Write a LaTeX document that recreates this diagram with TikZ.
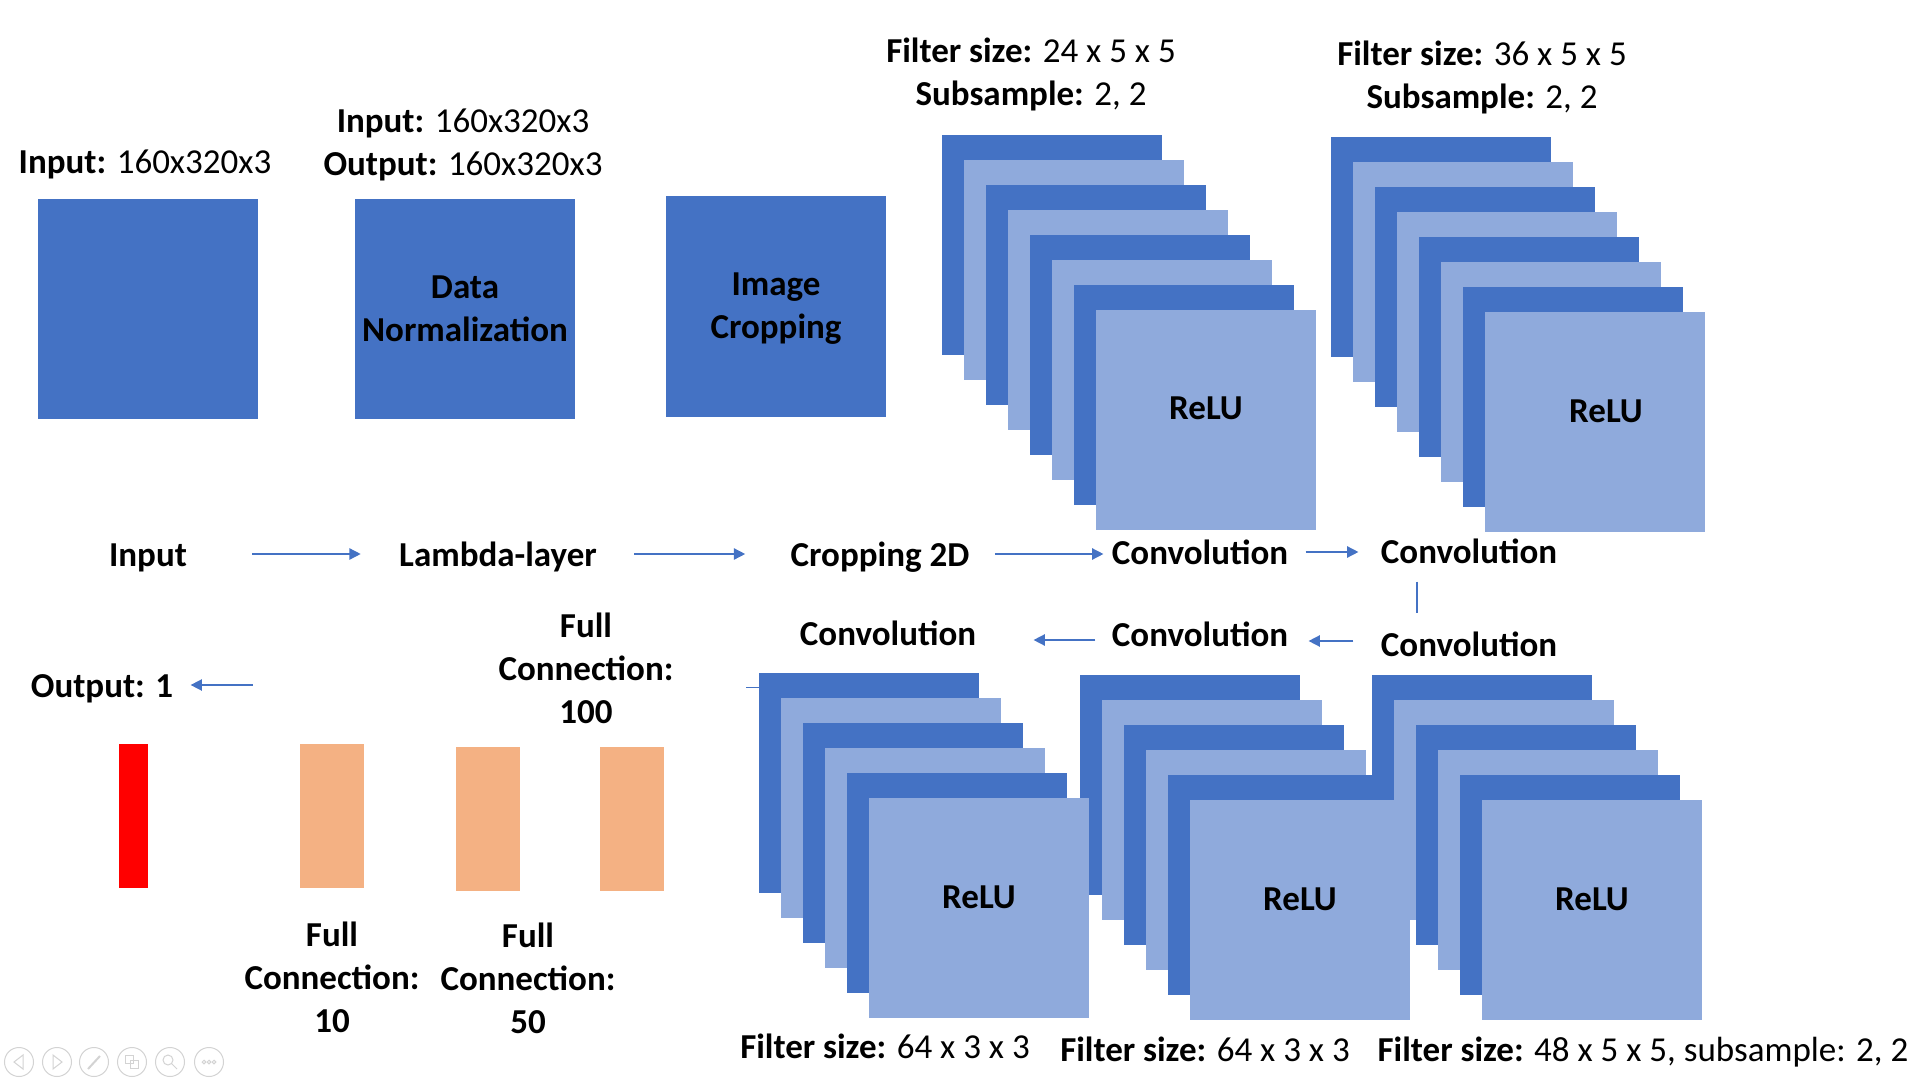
\documentclass[tikz,border=0pt]{standalone}
\usepackage{fontspec}
\setmainfont{Carlito}
\usetikzlibrary{arrows.meta,calc,positioning}

\definecolor{convdark}{HTML}{4472C4}
\definecolor{convlight}{HTML}{8FAADC}
\definecolor{fcorange}{HTML}{F4B183}
\definecolor{outred}{HTML}{FF0000}
\definecolor{uigray}{HTML}{D3D3D3}

\newcommand{\figfont}{\fontsize{26.25}{32.25}\selectfont}

\tikzset{every picture/.style={line width=0.75pt}}
\tikzset{
	txt/.style={font=\figfont, inner sep=0pt},
	btxt/.style={font=\figfont\bfseries, inner sep=0pt},
	rowtxt/.style={btxt, text height=18pt, text depth=0pt},
	multitxt/.style={txt, align=center},
	bmultitxt/.style={btxt, align=center},
	layerbox/.style={btxt, fill=convdark, minimum width=165pt, minimum height=165pt, align=center},
	fmap/.style={minimum width=165pt, minimum height=165pt, inner sep=0pt},
	fcbar/.style={fill=fcorange, minimum width=48pt, minimum height=108pt, inner sep=0pt},
	flow/.style={draw=convdark, line width=1.1pt, -{Triangle[length=8.5pt,width=8.5pt]}},
	link/.style={draw=convdark, line width=1.1pt},
	uibtn/.style={circle, draw=uigray, minimum size=21.75pt, inner sep=0pt},
}

\begin{document}
\begin{tikzpicture}[x=0.75pt,y=0.75pt,yscale=-1,xscale=1]
	\useasboundingbox (0,0) rectangle (1920,1080);
	
	%Input, lambda and cropping layers
	\node[layerbox] (inbox) at (148,309) {};
	\node[layerbox] (normbox) at (465,309) {Data\\Normalization};
	\node[layerbox] (cropbox) at (776,306.5) {};
	\node[bmultitxt] (cropname) at ($(cropbox.center)+(0,2.5)$) {Image\\Cropping};
	\node[txt, anchor=base] (inshape) at (145,174) {\textbf{Input:} 160x320x3};
	\node[multitxt] (normshape) at (463,144.5) {\textbf{Input:} 160x320x3\\\textbf{Output:} 160x320x3};
	
	%Feature maps (right to left, so the left stacks lie on top)
	\foreach \nm/\x/\y/\n in {cc/1372/675/6, cd/1080/675/6, ce/759/673/6, ca/942/135/8, cb/1331/137/8}{
		\foreach \i in {1,...,\n}{
			\pgfmathtruncatemacro{\odd}{mod(\i,2)}
			\ifnum\odd=1 \def\mapcol{convdark}\else\def\mapcol{convlight}\fi
			\node[fmap, fill=\mapcol] (\nm\i) at ({\x+110+(\i-1)*22},{\y+110+(\i-1)*25}) {};
		}
	}
	\foreach \st/\k/\off in {ca/8/0, cb/8/11, cc/6/0, cd/6/0, ce/6/0}
		\node[btxt, anchor=base] (relu\st) at ($(\st\k.center)+(\off,0)$) {ReLU};
	
	\node[multitxt] (fsa) at (1031,74) {\textbf{Filter size:} 24 x 5 x 5\\\textbf{Subsample:} 2, 2};
	\node[multitxt] (fsb) at (1482,77) {\textbf{Filter size:} 36 x 5 x 5\\\textbf{Subsample:} 2, 2};
	\node[txt, anchor=base] (fsc) at (1643,1061.5) {\textbf{Filter size:} 48 x 5 x 5, subsample: 2, 2};
	\node[txt, anchor=base] (fsd) at (1205,1061.5) {\textbf{Filter size:} 64 x 3 x 3};
	\node[txt, anchor=base] (fse) at (885,1058.5) {\textbf{Filter size:} 64 x 3 x 3};
	
	%Dense layers
	\node[fill=outred, minimum width=21.75pt, minimum height=108pt, inner sep=0pt] (fcout) at (133.5,816) {};
	\node[fcbar] (fc10) at (332,816) {};
	\node[fcbar] (fc50) at (488,819) {};
	\node[fcbar] (fc100) at (632,819) {};
	\node[bmultitxt] (lfc10) at (332,977.5) {Full\\Connection:\\10};
	\node[bmultitxt] (lfc50) at (528,978) {Full\\Connection:\\50};
	\node[bmultitxt] (lfc100) at (586,668) {Full\\Connection:\\100};
	
	%Layer sequence
	\node[rowtxt, anchor=base] (lin) at (148,566) {Input};
	\node[rowtxt, anchor=base] (llam) at (498,566) {Lambda-layer};
	\node[rowtxt, anchor=base] (lcrop) at (880,566) {Cropping 2D};
	\node[rowtxt, anchor=base] (lconva) at (1200,564) {Convolution};
	\node[rowtxt, anchor=base] (lconvb) at (1469,563) {Convolution};
	\node[rowtxt, anchor=base] (lconvc) at (1469,656) {Convolution};
	\node[rowtxt, anchor=base] (lconvd) at (1200,646) {Convolution};
	\node[rowtxt, anchor=base] (lconve) at (888,645) {Convolution};
	\node[rowtxt, anchor=base] (lout) at (102,697) {Output: 1};
	
	\draw[flow, shorten <=48.75pt, shorten >=28.5pt] (lin.east) -- (llam.west);
	\draw[flow, shorten <=27.75pt, shorten >=33.75pt] (llam.east) -- (lcrop.west);
	\draw[flow, shorten <=18.75pt, shorten >=6pt] (lcrop.east) -- (lcrop.east -| lconva.west);
	\draw[flow, shorten <=12.75pt, shorten >=16.5pt] (lconva.east) -- (lconva.east -| lconvb.west);
	\draw[link, shorten <=13.5pt, shorten >=14.25pt] ($(lconvb.south)+(-52,0)$) -- ($(lconvc.north)+(-52,0)$);
	\draw[flow, shorten <=20.25pt, shorten >=15pt] ($(lconvc.west)+(0,-3)$) -- ($(lconvd.east)+(0,7)$);
	\draw[flow, shorten <=12pt, shorten >=42.75pt] ($(lconvd.west)+(0,6)$) -- ($(lconve.east)+(0,7)$);
	\draw[flow, shorten >=12.75pt] ($(lout.east)+(79,0)$) -- (lout.east);
	\draw[link] ($(ce1.north west)+(0,15)$) -- ++(-13,0);
	
	%Slide show buttons
	\foreach \k/\ux in {1/19, 2/57, 3/94, 4/132, 5/170, 6/209}
		\node[uibtn] (ui\k) at (\ux,1062) {};
	\draw[uigray] ($(ui1)+(-5,0)$) -- ++(9,-7) -- ++(0,14) -- cycle;
	\draw[uigray] ($(ui2)+(5,0)$) -- ++(-9,-7) -- ++(0,14) -- cycle;
	\draw[uigray, line width=1.5pt] ($(ui3)+(-6,7)$) -- ++(12,-13);
	\draw[uigray] ($(ui4)+(-7,-7)$) rectangle ++(8,8) ($(ui4)+(-2,-2)$) rectangle ++(8,8);
	\draw[uigray] ($(ui5)+(-2,-2)$) circle[radius=5] ($(ui5)+(2,2)$) -- ++(5,5);
	\foreach \dd in {-5,0,5}
		\draw[uigray] ($(ui6)+(\dd,0)$) circle[radius=1.8];
	
\end{tikzpicture}
\end{document}
